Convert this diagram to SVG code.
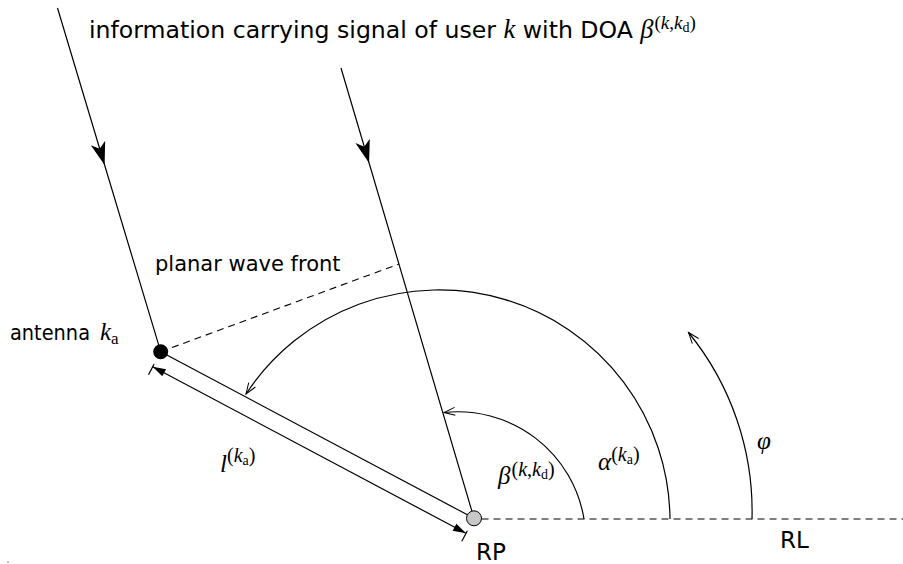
<svg xmlns="http://www.w3.org/2000/svg" width="903" height="564" viewBox="0 0 903 564">
<style>
.ln{fill:none;stroke:#000;stroke-width:1.2}
.dash{fill:none;stroke:#000;stroke-width:1.1;stroke-dasharray:7 5}
.t{font-family:"DejaVu Sans",sans-serif;font-size:21px;fill:#000}
.big{font-family:"DejaVu Sans",sans-serif;font-size:23px;fill:#000}
.m{font-family:"Liberation Serif",serif;font-size:25px;fill:#000}
.i{font-style:italic}
.s{font-size:20px}
.ss{font-size:14px}
.sub{font-size:17px}
</style>
<defs>
<marker id="big" markerUnits="userSpaceOnUse" markerWidth="30" markerHeight="20" viewBox="-25 -10 30 20" refX="0" refY="0" orient="auto">
<path d="M0,0 L-23,-7.5 L-17,0 L-23,7.5 Z" fill="#000"/>
</marker>
<marker id="fill" markerUnits="userSpaceOnUse" markerWidth="20" markerHeight="12" viewBox="-15 -6 20 12" refX="0" refY="0" orient="auto-start-reverse">
<path d="M0,0 L-13,-4 L-13,4 Z" fill="#000"/>
</marker>
<marker id="open" markerUnits="userSpaceOnUse" markerWidth="16" markerHeight="12" viewBox="-13 -6 16 12" refX="0" refY="0" orient="auto">
<path d="M-11,-4 L0,0 L-11,4" fill="none" stroke="#000" stroke-width="1"/>
</marker>
</defs>
<g id="connectors">
<path class="ln" d="M57.5,8 L104.6,165 L160.7,351.7" marker-mid="url(#big)"/>
<path class="ln" d="M341,68 L369.1,163 L474,518.3" marker-mid="url(#big)"/>
<line class="dash" x1="160.7" y1="351.7" x2="399" y2="264"/>
<line class="ln" x1="160.7" y1="351.7" x2="474" y2="518.3"/>
<line class="ln" x1="152.7" y1="366.7" x2="466" y2="533.3" marker-start="url(#fill)" marker-end="url(#fill)"/>
<line class="ln" x1="154.1" y1="364.1" x2="148.5" y2="374.7"/>
<line class="ln" x1="467.4" y1="530.7" x2="461.8" y2="541.3"/>
<line class="dash" x1="481.5" y1="519" x2="903" y2="519" stroke-dasharray="6.5 3.5"/>
<path class="ln" d="M584,519 A128,128 0 0 0 444,412.5" marker-end="url(#open)"/>
<path class="ln" d="M670,519 A231,231 0 0 0 246,394" marker-end="url(#open)"/>
<path class="ln" d="M752,519 A283,283 0 0 0 688.5,332.5" marker-end="url(#open)"/>
</g>
<g id="antenna">
<circle cx="160.7" cy="351.7" r="7.5" fill="#000"/>
<text x="10" y="340" class="t"><tspan textLength="80" lengthAdjust="spacingAndGlyphs">antenna</tspan><tspan x="100" class="m i">k</tspan><tspan class="m sub" dy="4">a</tspan></text>
</g>
<g id="RP">
<circle cx="474" cy="518.3" r="7.5" fill="#c8c8c8" stroke="#000" stroke-width="1"/>
<text x="476" y="560" class="big">RP</text>
</g>
<g id="RL">
<text x="780" y="548" class="big">RL</text>
</g>
<g id="labels">
<text x="89" y="38" class="t" style="font-size:23.6px">information carrying signal of user <tspan class="m i" style="font-size:26.5px">k</tspan> with DOA <tspan class="m i" style="font-size:26.5px">β</tspan><tspan class="m" style="font-size:19px" dy="-9" dx="1">(</tspan><tspan class="m i" style="font-size:19px">k</tspan><tspan class="m" style="font-size:19px">,</tspan><tspan class="m i" style="font-size:19px">k</tspan><tspan class="m" style="font-size:14px" dy="3">d</tspan><tspan class="m" style="font-size:19px" dy="-3">)</tspan></text>
<text x="155" y="271" class="t">planar wave front</text>
<text x="220" y="472" class="m"><tspan class="i">l</tspan><tspan class="s" dy="-10">(</tspan><tspan class="s i">k</tspan><tspan class="ss" dy="3">a</tspan><tspan class="s" dy="-3">)</tspan></text>
<text x="498" y="484" class="m"><tspan class="i">β</tspan><tspan class="s" dy="-8" dx="1">(</tspan><tspan class="s i">k</tspan><tspan class="s">,</tspan><tspan class="s i">k</tspan><tspan class="ss" dy="3">d</tspan><tspan class="s" dy="-3">)</tspan></text>
<text x="598" y="470" class="m"><tspan class="i">α</tspan><tspan class="s" dy="-9">(</tspan><tspan class="s i">k</tspan><tspan class="ss" dy="3">a</tspan><tspan class="s" dy="-3">)</tspan></text>
<text x="757" y="449" class="m i">φ</text>
</g>
<rect x="7.5" y="561.5" width="1" height="1" fill="#000"/>
</svg>
